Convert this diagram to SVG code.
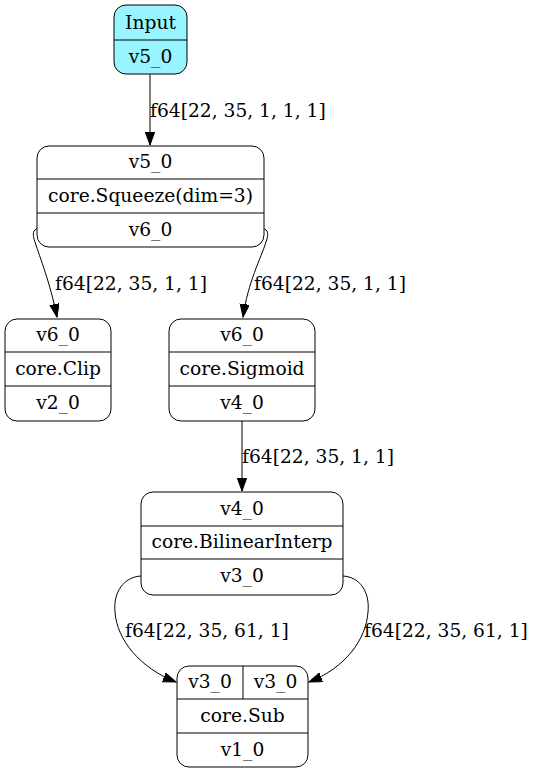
<svg xmlns="http://www.w3.org/2000/svg" width="536" height="774" viewBox="0 0 536 774">
<defs>
<style>
text{font-family:"DejaVu Serif","Liberation Serif",serif;font-size:18.67px;fill:#000;text-anchor:middle}
.lbl{text-anchor:start}
.box{fill:#fff;stroke:#000;stroke-width:1}
.inp{fill:#98f5ff}
.sep{stroke:#000;stroke-width:1}
.edge{fill:none;stroke:#000;stroke-width:1;marker-end:url(#arr)}
</style>
<marker id="arr" markerUnits="userSpaceOnUse" markerWidth="14" markerHeight="11" refX="13" refY="4.7" orient="auto">
<path d="M0,0 L13,4.7 L0,9.4 z" fill="#000" stroke="#000" stroke-width="1"/>
</marker>
</defs>
<rect width="536" height="774" fill="#fff"/>
<g id="connectors">
<path class="edge" d="M150,74 L150,145"/>
<text class="lbl" x="150" y="117">f64[22, 35, 1, 1, 1]</text>
<path class="edge" d="M38,229 C33,229 32,234 35,242 C40,258 50,282 57,317"/>
<text class="lbl" x="55" y="290">f64[22, 35, 1, 1]</text>
<path class="edge" d="M263,229 C268,229 269,234 266,242 C261,258 248,282 243,317"/>
<text class="lbl" x="254" y="290">f64[22, 35, 1, 1]</text>
<path class="edge" d="M242,421 L242,491"/>
<text class="lbl" x="242" y="463">f64[22, 35, 1, 1]</text>
<path class="edge" d="M141,576 C124,577 113,592 115,612 C117,640 140,668 176,682"/>
<text class="lbl" x="125" y="637">f64[22, 35, 61, 1]</text>
<path class="edge" d="M343,576 C360,577 370,592 368,612 C366,640 345,668 309,682"/>
<text class="lbl" x="364" y="637">f64[22, 35, 61, 1]</text>
</g>
<g id="input">
<rect class="box inp" x="114" y="5" width="73" height="69" rx="12"/>
<line class="sep" x1="114" y1="40" x2="187" y2="40"/>
<text x="150.5" y="29">Input</text>
<text x="150.5" y="63">v5_0</text>
</g>
<g id="squeeze">
<rect class="box" x="37" y="146" width="227" height="101" rx="12"/>
<line class="sep" x1="37" y1="179" x2="264" y2="179"/>
<line class="sep" x1="37" y1="213" x2="264" y2="213"/>
<text x="150.5" y="168">v5_0</text>
<text x="150.5" y="202">core.Squeeze(dim=3)</text>
<text x="150.5" y="236">v6_0</text>
</g>
<g id="clip">
<rect class="box" x="5" y="319" width="106" height="102" rx="12"/>
<line class="sep" x1="5" y1="352" x2="111" y2="352"/>
<line class="sep" x1="5" y1="386" x2="111" y2="386"/>
<text x="58" y="341">v6_0</text>
<text x="58" y="375">core.Clip</text>
<text x="58" y="409">v2_0</text>
</g>
<g id="sigmoid">
<rect class="box" x="169" y="319" width="146" height="102" rx="12"/>
<line class="sep" x1="169" y1="352" x2="315" y2="352"/>
<line class="sep" x1="169" y1="386" x2="315" y2="386"/>
<text x="242" y="341">v6_0</text>
<text x="242" y="375">core.Sigmoid</text>
<text x="242" y="409">v4_0</text>
</g>
<g id="bilinear">
<rect class="box" x="141" y="492" width="202" height="103" rx="12"/>
<line class="sep" x1="141" y1="526" x2="343" y2="526"/>
<line class="sep" x1="141" y1="559" x2="343" y2="559"/>
<text x="242" y="515">v4_0</text>
<text x="242" y="548">core.BilinearInterp</text>
<text x="242" y="582">v3_0</text>
</g>
<g id="sub">
<rect class="box" x="177" y="666" width="131" height="101" rx="12"/>
<line class="sep" x1="177" y1="699" x2="308" y2="699"/>
<line class="sep" x1="177" y1="733" x2="308" y2="733"/>
<line class="sep" x1="243" y1="666" x2="243" y2="699"/>
<text x="210" y="688">v3_0</text>
<text x="275.5" y="688">v3_0</text>
<text x="242.5" y="722">core.Sub</text>
<text x="242.5" y="756">v1_0</text>
</g>
</svg>
